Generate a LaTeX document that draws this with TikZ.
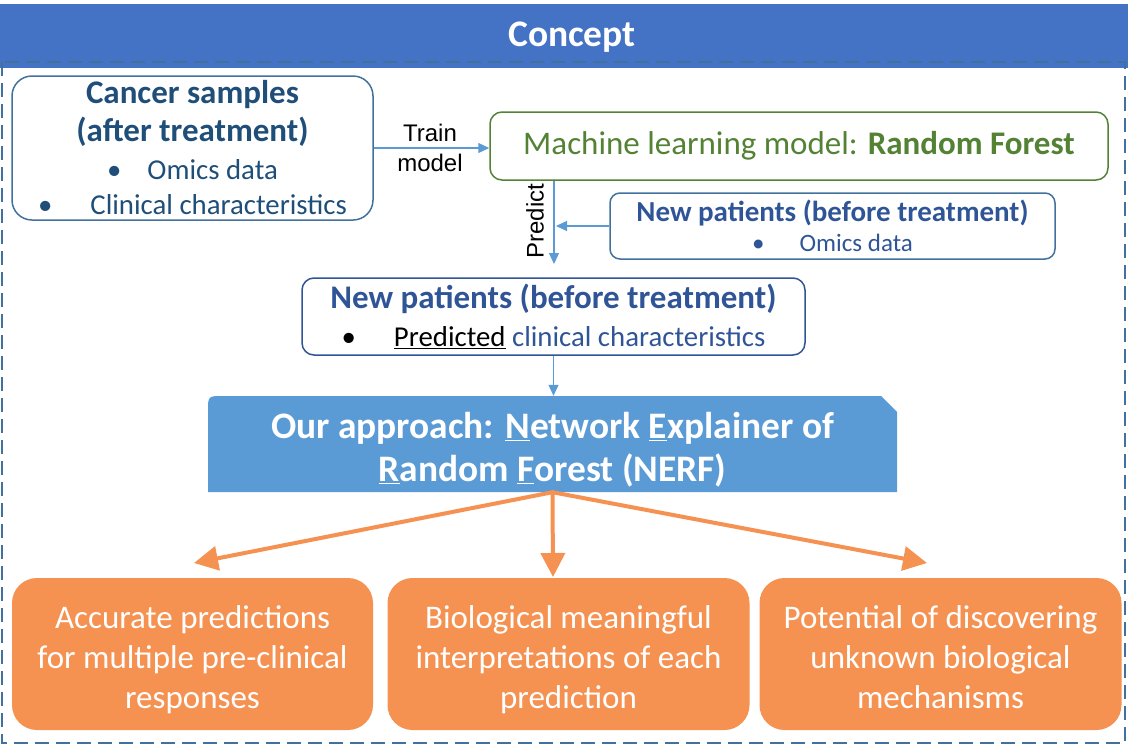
\documentclass[tikz,border=0pt]{standalone}
\usepackage{fontspec}
\setmainfont{Carlito}
\newfontfamily\arialfont{Liberation Sans}
\usetikzlibrary{arrows.meta}
\definecolor{barblue}{HTML}{4472C4}
\definecolor{frameblue}{HTML}{41719C}
\definecolor{darkblue}{HTML}{1F4E79}
\definecolor{navy}{HTML}{2F5597}
\definecolor{mlgreen}{HTML}{548235}
\definecolor{flowblue}{HTML}{5B9BD5}
\definecolor{fanorange}{HTML}{F59252}

\begin{document}
\begin{tikzpicture}[x=1pt,y=-1pt,
  box/.style={draw, line width=1.5pt, align=center, inner sep=0pt},
  result/.style={fill=fanorange, rounded corners=25pt, minimum width=362pt, minimum height=152pt, align=center, text=white, font=\fontsize{33}{40}\selectfont},
  flow/.style={draw=flowblue, line width=1.2pt, -{Triangle[length=11pt,width=10pt]}},
  fan/.style={draw=fanorange, line width=4pt, line cap=round, -{Triangle[length=24pt,width=24pt]}},
  lbl/.style={font=\arialfont\fontsize{24}{30}\selectfont}]
  \useasboundingbox (0,0) rectangle (1128,745);
  % header and frame
  \fill[barblue] (0,4) rectangle (1128,68);
  \node[text=white, font=\fontsize{37.5}{40}\selectfont\bfseries] (concept) at (572,37) {Concept};
  \draw[frameblue, line width=2pt, dash pattern=on 14pt off 7pt] (2,62) rectangle (1125,743);
  % inputs
  \node[box, draw=frameblue, text=darkblue, rounded corners=20pt, minimum width=361pt, minimum height=144pt, font=\fontsize{28.8}{35}\selectfont] (samples) at (192.5,148)
    {{\fontsize{33}{38}\selectfont\bfseries Cancer samples}\\[3pt]{\fontsize{33}{38}\selectfont\bfseries (after treatment)}\\[3pt]\textbullet\hspace{26pt}Omics data\\\textbullet\hspace{38pt}Clinical characteristics};
  \node[box, draw=mlgreen, text=mlgreen, rounded corners=12pt, minimum width=618pt, minimum height=68pt, font=\fontsize{33}{40}\selectfont] (model) at (799,146)
    {Machine learning model: \textbf{Random Forest}};
  \node[box, draw=frameblue, text=navy, rounded corners=10pt, minimum width=445pt, minimum height=66pt, font=\fontsize{25}{30}\selectfont] (newpat) at (832.5,226)
    {{\fontsize{29}{32}\selectfont\bfseries New patients (before treatment)}\\\textbullet\hspace{35pt}Omics data};
  \node[box, draw=navy, text=navy, rounded corners=12pt, minimum width=503pt, minimum height=77pt, font=\fontsize{28.8}{35}\selectfont] (predpat) at (553.5,316.5)
    {{\fontsize{33}{38}\selectfont\bfseries New patients (before treatment)}\\[3pt]\textcolor{black}{\textbullet\hspace{38pt}\underline{Predicted}} clinical characteristics};
  % approach
  \fill[flowblue] (208,492) -- (208,411) .. controls (208,396) .. (223,396) -- (881,396) -- (897,412) -- (897,492) -- cycle;
  \node[align=center, text=white, minimum width=689pt, minimum height=96pt, font=\fontsize{37.4}{43}\selectfont\bfseries] (nerf) at (552.5,444)
    {\rule{0pt}{38pt}Our approach: \underline{N}etwork \underline{E}xplainer of\\\underline{R}andom \underline{F}orest (NERF)};
  % outcomes
  \node[result, minimum width=361pt] (accurate) at (192.5,654) {\rule{0pt}{37pt}Accurate predictions\\for multiple pre-clinical\\responses\rule[-9pt]{0pt}{9pt}};
  \node[result] (meaning) at (568.5,654) {\rule{0pt}{37pt}Biological meaningful\\interpretations of each\\prediction\rule[-9pt]{0pt}{9pt}};
  \node[result] (discover) at (940.5,654) {\rule{0pt}{37pt}Potential of discovering\\unknown biological\\mechanisms\rule[-9pt]{0pt}{9pt}};
  % connectors
  \coordinate (predend) at (554,264);
  \draw[flow] (samples.east) -- (samples.east -| model.west);
  \node[lbl, align=center] (train) at (430,148) {Train\\model};
  \draw[flow] (model.south -| predend) -- (predend);
  \node[lbl, rotate=90] (predlbl) at (535,221) {Predict};
  \draw[flow, shorten >=2pt] (newpat.west) -- (newpat.west -| predend);
  \draw[flow] (predpat.south) -- (predpat.south |- nerf.north);
  \coordinate (tipa) at (194,563);
  \coordinate (tipb) at (553,577);
  \coordinate (tipc) at (927,563);
  \draw[fan] (nerf.south) -- (tipa);
  \draw[fan] (nerf.south) -- (tipb);
  \draw[fan] (nerf.south) -- (tipc);
\end{tikzpicture}
\end{document}
